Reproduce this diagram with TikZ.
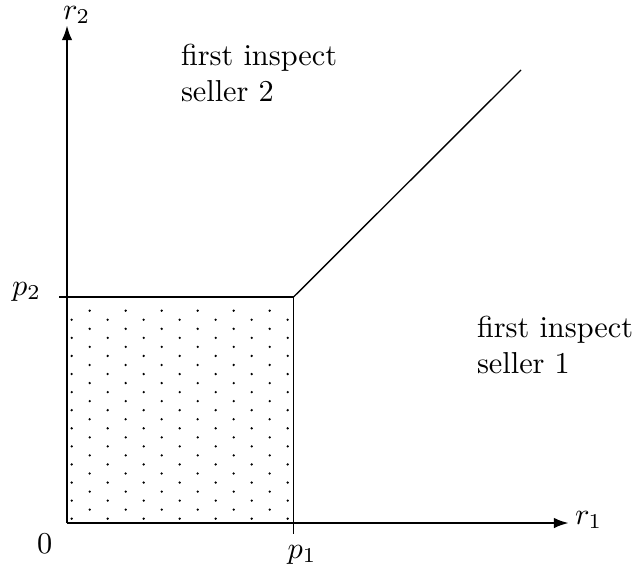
\documentclass[tikz,border=0pt]{standalone}
\usetikzlibrary{arrows.meta}
\begin{document}
\begin{tikzpicture}[x=0.33pt,y=-0.33pt,
  axis/.style={line width=0.85pt,-{Latex[length=5pt,width=3.5pt]}},
  thin/.style={line width=0.45pt},
  lbl/.style={inner sep=0pt,outer sep=0pt},
  region/.style={inner sep=0pt,outer sep=0pt,align=left,anchor=north west},
  dot/.style={fill=black}]
\useasboundingbox (0,0) rectangle (638,571);
% key points
\coordinate (O) at (67,523);
\coordinate (Ytip) at (67,25);
\coordinate (Xtip) at (569,523);
\coordinate (C) at (293.5,297);
\coordinate (P2tick) at (59,297);
\coordinate (P1tick) at (293.5,534);
\coordinate (D) at (521,70);
% dotted region
\foreach \k in {0,2,...,22}{
  \foreach \j in {0,...,5}{
    \fill[dot] ({89.7+36*\j},{310.7+\k*9.043}) circle[radius=0.42pt];
  }
}
\foreach \k in {1,3,...,23}{
  \foreach \j in {0,...,6}{
    \fill[dot] ({71.7+36*\j},{310.7+\k*9.043}) circle[radius=0.42pt];
  }
}
% box lines and diagonal
\draw[thin] (P2tick) -- (C);
\draw[thin] (C) -- (P1tick);
\draw[thin] (C) -- (D);
% axes
\draw[axis] (O) -- (Ytip);
\draw[axis] (O) -- (Xtip);
% labels
\node[lbl,anchor=base west] (r2) at (63,19) {$r_2$};
\node[lbl,anchor=base west] (r1) at (575,524) {$r_1$};
\node[lbl,anchor=base east] (p2) at (41,295) {$p_2$};
\node[lbl,anchor=base] (p1) at (302,558) {$p_1$};
\node[lbl,anchor=base] (zero) at (44.7,553) {$0$};
\node[region] (s2) at (181,44) {first inspect\\seller 2};
\node[region] (s1) at (477,316) {first inspect\\seller 1};
\end{tikzpicture}
\end{document}
